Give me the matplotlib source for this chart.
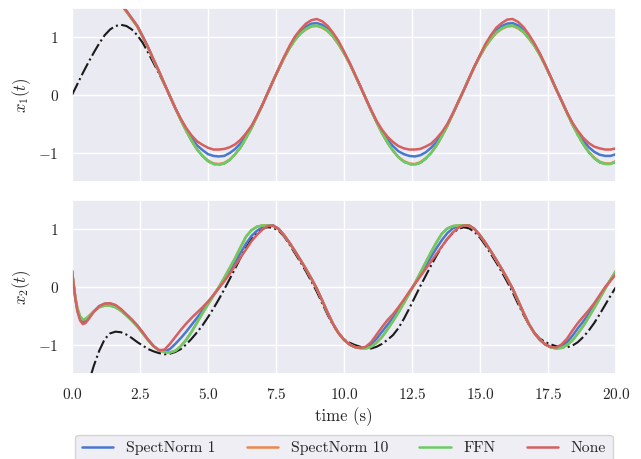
import matplotlib
matplotlib.use("Agg")
import matplotlib.pyplot as plt
import seaborn as sns

sns.set_theme(style="darkgrid", palette="muted")
plt.rcParams['font.family'] = ['serif']
plt.rcParams['font.serif'] = ['cmr10', 'DejaVu Serif']
plt.rcParams['mathtext.fontset'] = 'cm'
plt.rcParams['axes.formatter.use_mathtext'] = True

# ---------------- data ----------------
t1 = [0.0, 0.2, 0.4, 0.6, 0.8, 1.0, 1.2, 1.4, 1.6, 1.8, 2.0, 2.2, 2.4, 2.6, 2.8, 3.0,
      3.2, 3.4, 3.6, 3.8, 4.0, 4.2, 4.4, 4.6, 4.8, 5.0, 5.2, 5.4, 5.6, 5.8, 6.0, 6.2,
      6.4, 6.6, 6.8, 7.0, 7.2, 7.4, 7.6, 7.8, 8.0, 8.2, 8.4, 8.6, 8.8, 9.0, 9.2, 9.4,
      9.6, 9.8, 10.0, 10.2, 10.4, 10.6, 10.8, 11.0, 11.2, 11.4, 11.6, 11.8, 12.0,
      12.2, 12.4, 12.6, 12.8, 13.0, 13.2, 13.4, 13.6, 13.8, 14.0, 14.2, 14.4, 14.6,
      14.8, 15.0, 15.2, 15.4, 15.6, 15.8, 16.0, 16.2, 16.4, 16.6, 16.8, 17.0, 17.2,
      17.4, 17.6, 17.8, 18.0, 18.2, 18.4, 18.6, 18.8, 19.0, 19.2, 19.4, 19.6, 19.8, 20.0]

truth_x1 = [0.00, 0.19, 0.38, 0.56, 0.73, 0.89, 1.03, 1.13, 1.19, 1.21, 1.19, 1.13, 1.03, 0.90, 0.73, 0.55,
            0.37, 0.18, -0.02, -0.23, -0.43, -0.62, -0.79, -0.94, -1.05, -1.14,
            -1.19, -1.20, -1.18, -1.12, -1.02, -0.90, -0.74, -0.57, -0.37, -0.17,
            0.04, 0.25, 0.45, 0.64, 0.81, 0.95, 1.06, 1.14, 1.19, 1.20,
            1.17, 1.11, 1.01, 0.88, 0.72, 0.55, 0.35, 0.15, -0.06, -0.27,
            -0.47, -0.66, -0.82, -0.96, -1.07, -1.15, -1.19, -1.20, -1.17, -1.10,
            -1.00, -0.87, -0.71, -0.53, -0.33, -0.12, 0.08, 0.29, 0.49, 0.67,
            0.84, 0.97, 1.08, 1.15, 1.19, 1.20, 1.16, 1.09, 0.98, 0.85,
            0.69, 0.51, 0.31, 0.10, -0.10, -0.31, -0.51, -0.69, -0.85, -0.99,
            -1.09, -1.16, -1.19, -1.19, -1.15]
sn1_x1 = [2.06, 2.09, 2.11, 2.08, 2.03, 1.97, 1.89, 1.80, 1.69, 1.57, 1.45, 1.32, 1.19, 1.01, 0.82, 0.61,
          0.40, 0.19, -0.02, -0.23, -0.42, -0.59, -0.74, -0.87, -0.95, -1.02,
          -1.05, -1.06, -1.05, -1.00, -0.93, -0.83, -0.70, -0.55, -0.36, -0.17,
          0.04, 0.25, 0.45, 0.65, 0.82, 0.97, 1.09, 1.18, 1.23, 1.24,
          1.21, 1.14, 1.04, 0.90, 0.73, 0.56, 0.35, 0.15, -0.06, -0.27,
          -0.46, -0.63, -0.77, -0.88, -0.97, -1.02, -1.05, -1.06, -1.04, -0.99,
          -0.91, -0.81, -0.67, -0.51, -0.32, -0.12, 0.08, 0.29, 0.49, 0.68,
          0.86, 0.99, 1.11, 1.19, 1.23, 1.24, 1.20, 1.12, 1.00, 0.87,
          0.70, 0.51, 0.31, 0.10, -0.10, -0.31, -0.49, -0.66, -0.79, -0.90,
          -0.98, -1.03, -1.05, -1.05, -1.02]
sn10_x1 = [2.05, 2.08, 2.10, 2.07, 2.02, 1.96, 1.88, 1.79, 1.68, 1.56, 1.44, 1.31, 1.18, 1.00, 0.81, 0.60,
           0.40, 0.19, -0.02, -0.23, -0.43, -0.62, -0.79, -0.94, -1.05, -1.13,
           -1.18, -1.19, -1.17, -1.11, -1.02, -0.90, -0.74, -0.57, -0.37, -0.17,
           0.04, 0.25, 0.45, 0.64, 0.81, 0.95, 1.06, 1.13, 1.18, 1.19,
           1.16, 1.10, 1.00, 0.87, 0.72, 0.55, 0.35, 0.15, -0.06, -0.27,
           -0.47, -0.66, -0.82, -0.96, -1.07, -1.14, -1.18, -1.19, -1.16, -1.09,
           -1.00, -0.87, -0.71, -0.53, -0.33, -0.12, 0.08, 0.29, 0.49, 0.67,
           0.83, 0.96, 1.07, 1.14, 1.18, 1.19, 1.15, 1.08, 0.97, 0.85,
           0.69, 0.51, 0.31, 0.10, -0.10, -0.31, -0.51, -0.69, -0.85, -0.98,
           -1.08, -1.15, -1.18, -1.18, -1.14]
ffn_x1 = [2.05, 2.08, 2.10, 2.07, 2.02, 1.96, 1.88, 1.79, 1.68, 1.56, 1.44, 1.31, 1.18, 1.00, 0.81, 0.60,
          0.40, 0.19, -0.02, -0.23, -0.43, -0.62, -0.79, -0.94, -1.05, -1.14,
          -1.19, -1.20, -1.18, -1.12, -1.02, -0.90, -0.74, -0.57, -0.37, -0.17,
          0.04, 0.25, 0.45, 0.64, 0.81, 0.95, 1.06, 1.14, 1.19, 1.20,
          1.17, 1.11, 1.01, 0.88, 0.72, 0.55, 0.35, 0.15, -0.06, -0.27,
          -0.47, -0.66, -0.82, -0.96, -1.07, -1.15, -1.19, -1.20, -1.17, -1.10,
          -1.00, -0.87, -0.71, -0.53, -0.33, -0.12, 0.08, 0.29, 0.49, 0.67,
          0.84, 0.97, 1.08, 1.15, 1.19, 1.20, 1.16, 1.09, 0.98, 0.85,
          0.69, 0.51, 0.31, 0.10, -0.10, -0.31, -0.51, -0.69, -0.85, -0.99,
          -1.09, -1.16, -1.19, -1.19, -1.15]
none_x1 = [2.05, 2.08, 2.10, 2.07, 2.02, 1.96, 1.88, 1.79, 1.68, 1.56, 1.45, 1.32, 1.19, 1.01, 0.82, 0.61,
           0.41, 0.19, -0.02, -0.23, -0.41, -0.57, -0.70, -0.80, -0.86, -0.91,
           -0.94, -0.94, -0.93, -0.90, -0.85, -0.77, -0.66, -0.53, -0.36, -0.17,
           0.04, 0.25, 0.46, 0.66, 0.85, 1.01, 1.13, 1.23, 1.29, 1.31,
           1.27, 1.19, 1.07, 0.93, 0.75, 0.56, 0.36, 0.15, -0.06, -0.26,
           -0.45, -0.60, -0.72, -0.81, -0.88, -0.92, -0.94, -0.94, -0.93, -0.89,
           -0.84, -0.75, -0.64, -0.50, -0.32, -0.12, 0.08, 0.29, 0.50, 0.69,
           0.88, 1.03, 1.16, 1.24, 1.30, 1.31, 1.26, 1.17, 1.04, 0.89,
           0.72, 0.52, 0.31, 0.10, -0.10, -0.30, -0.48, -0.62, -0.74, -0.83,
           -0.89, -0.92, -0.94, -0.94, -0.92]

t2 = [0.0, 0.05, 0.1, 0.15, 0.2, 0.3, 0.4, 0.5, 0.6, 0.8, 1.0, 1.2, 1.4,
      1.6, 1.8, 2.0, 2.2, 2.4, 2.6, 2.8, 3.0, 3.2, 3.4, 3.6, 3.8, 4.0, 4.2, 4.4,
      4.6, 4.8, 5.0, 5.2, 5.4, 5.6, 5.8, 6.0, 6.2, 6.4, 6.6, 6.8, 7.0, 7.2, 7.4,
      7.6, 7.8, 8.0, 8.2, 8.4, 8.6, 8.8, 9.0, 9.2, 9.4, 9.6, 9.8, 10.0, 10.2, 10.4,
      10.6, 10.8, 11.0, 11.2, 11.4, 11.6, 11.8, 12.0, 12.2, 12.4, 12.6, 12.8, 13.0,
      13.2, 13.4, 13.6, 13.8, 14.0, 14.2, 14.4, 14.6, 14.8, 15.0, 15.2, 15.4, 15.6,
      15.8, 16.0, 16.2, 16.4, 16.6, 16.8, 17.0, 17.2, 17.4, 17.6, 17.8, 18.0, 18.2,
      18.4, 18.6, 18.8, 19.0, 19.2, 19.4, 19.6, 19.8, 20.0]

truth_x2 = [-3.20, -3.02, -2.86, -2.71, -2.57, -2.31, -2.07, -1.86, -1.67, -1.36, -1.10, -0.90, -0.80,
            -0.77, -0.78, -0.82, -0.88, -0.95, -1.01, -1.07, -1.11, -1.14, -1.16,
            -1.15, -1.12, -1.07, -0.99, -0.89, -0.78, -0.66, -0.52, -0.37, -0.21,
            -0.04, 0.14, 0.32, 0.51, 0.68, 0.83, 0.94, 1.01, 1.03, 1.02,
            0.97, 0.87, 0.73, 0.58, 0.43, 0.27, 0.10, -0.08, -0.28, -0.48,
            -0.66, -0.80, -0.90, -0.96, -1.00, -1.03, -1.05, -1.06, -1.03, -0.98,
            -0.91, -0.83, -0.71, -0.55, -0.37, -0.18, 0.01, 0.19, 0.37, 0.54,
            0.70, 0.83, 0.93, 1.00, 1.03, 1.01, 0.95, 0.85, 0.72, 0.57,
            0.42, 0.26, 0.09, -0.09, -0.29, -0.48, -0.65, -0.79, -0.89, -0.95,
            -0.99, -1.02, -1.04, -1.04, -1.01, -0.95, -0.86, -0.75, -0.62, -0.47,
            -0.31, -0.15, 0.00]
sn1_x2 = [0.28, 0.08, -0.11, -0.27, -0.40, -0.55, -0.60, -0.59, -0.54, -0.42, -0.33, -0.29, -0.29,
          -0.32, -0.39, -0.48, -0.57, -0.67, -0.79, -0.91, -1.02, -1.09, -1.11,
          -1.07, -0.98, -0.88, -0.77, -0.65, -0.53, -0.40, -0.27, -0.14, -0.01,
          0.13, 0.28, 0.43, 0.59, 0.75, 0.88, 0.97, 1.03, 1.06, 1.06,
          1.00, 0.89, 0.76, 0.615, 0.465, 0.31, 0.145, -0.03, -0.235, -0.445,
          -0.64, -0.795, -0.91, -0.99, -1.035, -1.05, -1.04, -0.99, -0.89, -0.77,
          -0.65, -0.53, -0.40, -0.26, -0.10, 0.05, 0.21, 0.37, 0.52, 0.67,
          0.81, 0.93, 1.01, 1.05, 1.065, 1.06, 1.00, 0.89, 0.76, 0.615,
          0.465, 0.31, 0.145, -0.03, -0.235, -0.445, -0.64, -0.795, -0.91, -0.99,
          -1.035, -1.05, -1.02, -0.95, -0.84, -0.71, -0.59, -0.46, -0.32, -0.17,
          -0.02, 0.12, 0.25]
sn10_x2 = [0.28, 0.09, -0.10, -0.25, -0.37, -0.51, -0.56, -0.55, -0.51, -0.42, -0.35, -0.32, -0.32,
           -0.35, -0.41, -0.49, -0.58, -0.68, -0.80, -0.92, -1.02, -1.09, -1.12,
           -1.13, -1.10, -1.02, -0.91, -0.77, -0.61, -0.45, -0.30, -0.15, 0.00,
           0.16, 0.33, 0.50, 0.69, 0.87, 0.98, 1.04, 1.06, 1.06, 1.05,
           1.00, 0.89, 0.76, 0.615, 0.465, 0.31, 0.145, -0.03, -0.235, -0.445,
           -0.64, -0.795, -0.91, -0.99, -1.035, -1.055, -1.06, -1.03, -0.96, -0.86,
           -0.73, -0.59, -0.44, -0.28, -0.11, 0.06, 0.24, 0.42, 0.60, 0.77,
           0.92, 1.01, 1.05, 1.06, 1.065, 1.06, 1.00, 0.89, 0.76, 0.615,
           0.465, 0.31, 0.145, -0.03, -0.235, -0.445, -0.64, -0.795, -0.91, -0.99,
           -1.04, -1.06, -1.05, -1.00, -0.92, -0.80, -0.67, -0.52, -0.36, -0.20,
           -0.03, 0.13, 0.28]
ffn_x2 = [0.28, 0.09, -0.10, -0.25, -0.37, -0.51, -0.56, -0.55, -0.51, -0.42, -0.35, -0.32, -0.32,
          -0.35, -0.41, -0.49, -0.58, -0.68, -0.80, -0.92, -1.02, -1.09, -1.12,
          -1.13, -1.10, -1.02, -0.91, -0.77, -0.61, -0.45, -0.30, -0.15, 0.00,
          0.16, 0.33, 0.50, 0.69, 0.87, 0.98, 1.04, 1.06, 1.06, 1.05,
          1.00, 0.89, 0.76, 0.615, 0.465, 0.31, 0.145, -0.03, -0.235, -0.445,
          -0.64, -0.795, -0.91, -0.99, -1.035, -1.055, -1.06, -1.03, -0.96, -0.86,
          -0.73, -0.59, -0.44, -0.28, -0.11, 0.06, 0.24, 0.42, 0.60, 0.77,
          0.92, 1.01, 1.05, 1.06, 1.065, 1.06, 1.00, 0.89, 0.76, 0.615,
          0.465, 0.31, 0.145, -0.03, -0.235, -0.445, -0.64, -0.795, -0.91, -0.99,
          -1.04, -1.06, -1.05, -1.00, -0.92, -0.80, -0.67, -0.52, -0.36, -0.20,
          -0.03, 0.13, 0.28]
none_x2 = [0.28, 0.08, -0.12, -0.28, -0.42, -0.58, -0.64, -0.62, -0.56, -0.43, -0.33, -0.285, -0.28,
           -0.31, -0.38, -0.47, -0.56, -0.66, -0.78, -0.91, -1.02, -1.09, -1.08,
           -0.98, -0.86, -0.74, -0.63, -0.53, -0.44, -0.35, -0.25, -0.14, -0.02,
           0.10, 0.23, 0.37, 0.51, 0.65, 0.79, 0.90, 0.99, 1.05, 1.06,
           1.00, 0.89, 0.76, 0.615, 0.465, 0.31, 0.145, -0.03, -0.235, -0.445,
           -0.64, -0.795, -0.91, -0.99, -1.035, -1.05, -1.03, -0.95, -0.82, -0.69,
           -0.57, -0.47, -0.35, -0.22, -0.08, 0.05, 0.18, 0.31, 0.44, 0.57,
           0.70, 0.83, 0.94, 1.02, 1.06, 1.06, 1.00, 0.89, 0.76, 0.615,
           0.465, 0.31, 0.145, -0.03, -0.235, -0.445, -0.64, -0.795, -0.91, -0.99,
           -1.035, -1.045, -0.99, -0.89, -0.75, -0.62, -0.51, -0.40, -0.28, -0.14,
           0.00, 0.11, 0.22]

labels = ["SpectNorm 1", "SpectNorm 10", "FFN", "None"]
colors = sns.color_palette("muted")[:4]

# ---------------- figure ----------------
fig = plt.figure(figsize=(6.41, 4.59), dpi=100)
ax1 = fig.add_axes([72/641, 1 - 182/459, 544/641, 174/459])
ax2 = fig.add_axes([72/641, 1 - 374/459, 544/641, 174/459], sharex=ax1)

ax1.plot(t1, truth_x1, color='k', ls='-.', lw=1.5)
for y, lab, c in zip([sn1_x1, sn10_x1, ffn_x1, none_x1], labels, colors):
    ax1.plot(t1, y, color=c, lw=1.8, label=lab)

ax2.plot(t2, truth_x2, color='k', ls='-.', lw=1.5)
for y, lab, c in zip([sn1_x2, sn10_x2, ffn_x2, none_x2], labels, colors):
    ax2.plot(t2, y, color=c, lw=1.8, label=lab)

for ax in (ax1, ax2):
    ax.set_xlim(0, 20)
    ax.set_ylim(-1.5, 1.5)
    ax.set_yticks([-1, 0, 1])
ax1.tick_params(labelbottom=False)

ax1.set_ylabel(r'$x_1(t)$')
ax2.set_ylabel(r'$x_2(t)$')
ax2.set_xlabel('time (s)')

h, l = ax2.get_legend_handles_labels()
fig.legend(h, l, loc='upper center', ncol=4, borderaxespad=0.0, fontsize=11.3,
           bbox_to_anchor=(344/641, 1 - 435/459))

fig.savefig("out.png", dpi=100)
